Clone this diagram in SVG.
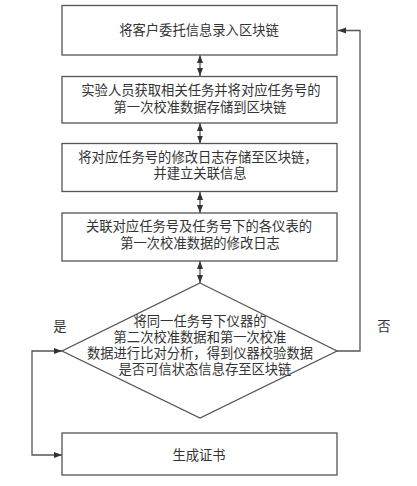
<svg xmlns="http://www.w3.org/2000/svg" width="417" height="486" viewBox="0 0 417 486">
<style>
.box{fill:#fff;stroke:#555;stroke-width:1.3}
.t{font-family:"Liberation Serif","Noto Sans CJK SC",serif;font-size:13.3px;fill:#333;text-anchor:middle}
.c{fill:none;stroke:#555;stroke-width:1.3}
</style>
<defs>
<marker id="ah" viewBox="0 0 8 8" refX="8" refY="4" markerWidth="8" markerHeight="8" markerUnits="userSpaceOnUse" orient="auto-start-reverse">
<path d="M0,1 L8,4 L0,7 Z" fill="#333"/>
</marker>
</defs>
<rect width="417" height="486" fill="#fff"/>
<g id="connectors">
<path class="c" d="M200,55 V76" marker-start="url(#ah)" marker-end="url(#ah)"/>
<path class="c" d="M200,123 V143.5" marker-start="url(#ah)" marker-end="url(#ah)"/>
<path class="c" d="M200,192 V213" marker-start="url(#ah)" marker-end="url(#ah)"/>
<path class="c" d="M200,261 V283" marker-start="url(#ah)" marker-end="url(#ah)"/>
<path class="c" d="M337,351 H360 V30.5 H338" marker-end="url(#ah)"/>
<path class="c" d="M62,351 H32 V455 H62" marker-start="url(#ah)" marker-end="url(#ah)"/>
<text class="t" x="60" y="331">是</text>
<text class="t" x="384" y="331">否</text>
</g>
<g id="n1">
<rect class="box" x="62" y="5.5" width="275" height="49.5"/>
<text class="t" x="199" y="35">将客户委托信息录入区块链</text>
</g>
<g id="n2">
<rect class="box" x="62" y="76.5" width="275" height="46.5"/>
<text class="t" x="201" y="95">实验人员获取相关任务并将对应任务号的</text>
<text class="t" x="200" y="112">第一次校准数据存储到区块链</text>
</g>
<g id="n3">
<rect class="box" x="62" y="143.5" width="275" height="48"/>
<text class="t" x="198" y="162">将对应任务号的修改日志存储至区块链，</text>
<text class="t" x="200" y="178">并建立关联信息</text>
</g>
<g id="n4">
<rect class="box" x="62" y="213" width="275" height="48"/>
<text class="t" x="199" y="231">关联对应任务号及任务号下的各仪表的</text>
<text class="t" x="200" y="248">第一次校准数据的修改日志</text>
</g>
<g id="n5">
<polygon class="box" points="200,283 337,351 200,418 62,351"/>
<text class="t" x="200" y="326">将同一任务号下仪器的</text>
<text class="t" x="200" y="342">第二次校准数据和第一次校准</text>
<text class="t" x="200" y="358">数据进行比对分析，得到仪器校验数据</text>
<text class="t" x="205" y="374">是否可信状态信息存至区块链</text>
</g>
<g id="n6">
<rect class="box" x="62" y="433" width="275" height="42"/>
<text class="t" x="199" y="460">生成证书</text>
</g>
</svg>
